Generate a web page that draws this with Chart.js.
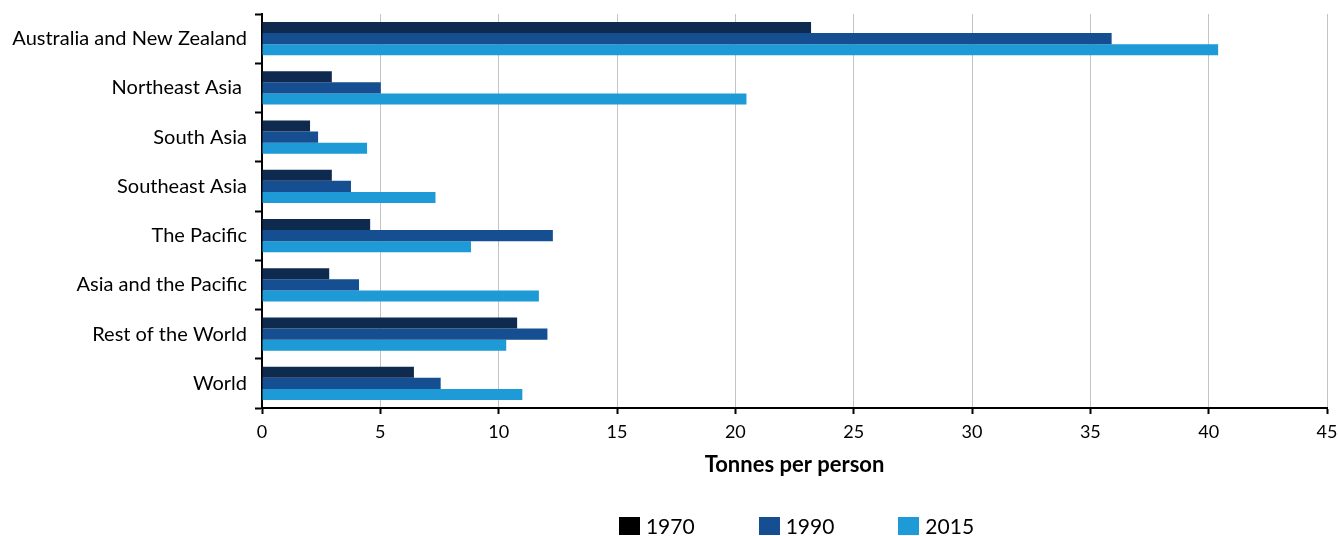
<!DOCTYPE html>
<html><head><meta charset="utf-8">
<script src="https://cdn.jsdelivr.net/npm/chart.js@4"></script>
<style>
html,body{margin:0;padding:0;background:#fff;}
#wrap{position:relative;width:1338px;height:536px;overflow:hidden;}
#legend{position:absolute;left:264px;right:9px;top:514px;display:flex;justify-content:center;gap:64px;font-family:Lato,sans-serif;font-size:21px;color:#000;line-height:24px;}
.item{display:flex;align-items:center;}
.sw{width:21px;height:18px;margin-right:6px;}
</style></head><body>
<div id="wrap"><canvas id="c" width="1338" height="536"></canvas><div id="legend"></div></div>
<script>
const categories = ['Australia and New Zealand','Northeast Asia ','South Asia','Southeast Asia','The Pacific','Asia and the Pacific','Rest of the World','World'];
const seriesNames = ['1970','1990','2015'];
const values1970 = [23.2, 2.95, 2.03, 2.95, 4.57, 2.84, 10.78, 6.42];
const values1990 = [35.9, 5.02, 2.37, 3.76, 12.29, 4.10, 12.06, 7.55];
const values2015 = [40.4, 20.47, 4.44, 7.33, 8.83, 11.70, 10.32, 11.0];
const barColors = ['#0f2a4f','#154f91','#1e9ad6'];
const legendColors = ['#000000','#154f91','#1e9ad6'];
const xMin = 0, xMax = 45, xStep = 5;
const xTitle = 'Tonnes per person';

const FONT = 'Lato, sans-serif';
const seriesValues = [values1970, values1990, values2015];

new Chart(document.getElementById('c'), {
  type: 'bar',
  data: {
    labels: categories,
    datasets: seriesNames.map((n, i) => ({
      label: n, data: seriesValues[i], backgroundColor: barColors[i],
      borderWidth: 0, categoryPercentage: 0.68, barPercentage: 1
    }))
  },
  options: {
    indexAxis: 'y', responsive: false, devicePixelRatio: 1, animation: false,
    layout: { padding: { top: 14, right: 11, left: 0, bottom: 0 } },
    plugins: { legend: { display: false }, tooltip: { enabled: false } },
    scales: {
      x: {
        min: xMin, max: xMax,
        ticks: { stepSize: xStep, font: { family: FONT, size: 18 }, color: '#000', padding: 7 },
        grid: { color: '#c4c4c4', lineWidth: 1, tickColor: '#000', tickLength: 6, tickWidth: 2 },
        border: { color: '#000', width: 2 },
        title: { display: true, text: xTitle, font: { family: FONT, size: 22, weight: 'bold' }, color: '#000', padding: { top: 0, bottom: 58 } },
        afterFit: s => { s.height = 128; s.paddingLeft = 0; s.paddingRight = 0; }
      },
      y: {
        ticks: { font: { family: FONT, size: 20 }, color: '#000', padding: 8 },
        grid: { drawOnChartArea: false, tickColor: '#000', tickLength: 7, tickWidth: 2 },
        border: { color: '#000', width: 2 },
        afterFit: s => { s.width = 262; s.paddingTop = 0; s.paddingBottom = 0; }
      }
    }
  }
});

const lg = document.getElementById('legend');
seriesNames.forEach((n, i) => {
  const it = document.createElement('div'); it.className = 'item';
  const sw = document.createElement('span'); sw.className = 'sw'; sw.style.background = legendColors[i];
  const tx = document.createElement('span'); tx.textContent = n;
  it.appendChild(sw); it.appendChild(tx); lg.appendChild(it);
});
</script>
</body></html>
